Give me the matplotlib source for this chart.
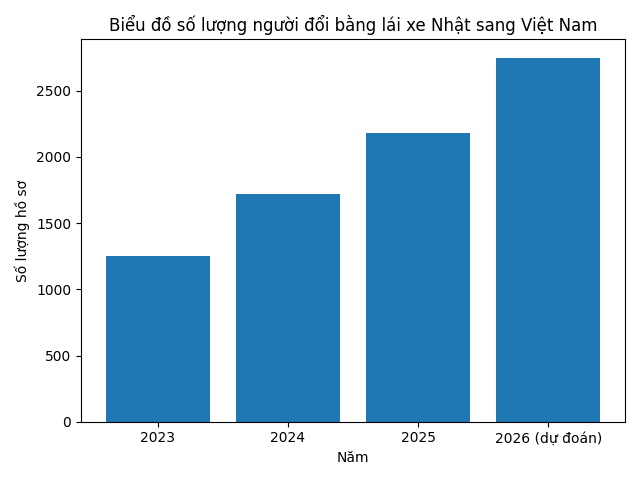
import matplotlib
matplotlib.use("Agg")
import matplotlib.pyplot as plt

years = ['2023', '2024', '2025', '2026 (dự đoán)']
counts = [1250, 1720, 2180, 2750]

fig, ax = plt.subplots(figsize=(6.4, 4.8), dpi=100)
ax.bar(years, counts, color='#1f77b4')
ax.set_title('Biểu đồ số lượng người đổi bằng lái xe Nhật sang Việt Nam')
ax.set_xlabel('Năm')
ax.set_ylabel('Số lượng hồ sơ')
fig.tight_layout()
fig.savefig('out.png')
